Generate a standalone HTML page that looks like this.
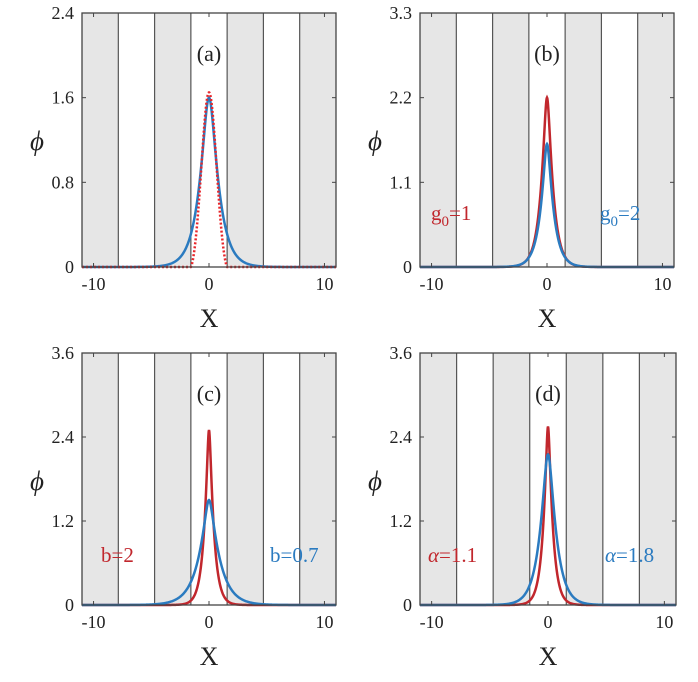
<!DOCTYPE html>
<html><head><meta charset="utf-8"><style>
body{margin:0;background:#fff;}
svg text{font-family:"Liberation Serif",serif;}
</style></head><body>
<svg id="s" width="698" height="677" xmlns="http://www.w3.org/2000/svg"></svg>
<script>
const S=document.getElementById('s');let h='';
const RED='#c1272d',BLUE='#2b7bc0';
function sech(x){return 2/(Math.exp(x)+Math.exp(-x));}
function cusp(A,w,r){r=r||0.03;return x=>A*Math.exp(-(Math.sqrt(x*x+r)-Math.sqrt(r))/w);}
function panel(L,T,R,B,ymax,ticks,lab,curves,texts){
 const sx=x=>L+(x+11)/22*(R-L), sy=y=>B-y/ymax*(B-T);
 const P=Math.PI;
 const bands=[[-11,-2.5*P],[-1.5*P,-0.5*P],[0.5*P,1.5*P],[2.5*P,11]];
 bands.forEach(b=>h+=`<rect x="${sx(b[0])}" y="${T}" width="${sx(b[1])-sx(b[0])}" height="${B-T}" fill="#e6e6e6"/>`);
 [-2.5,-1.5,-0.5,0.5,1.5,2.5].forEach(k=>h+=`<line x1="${sx(k*P)}" x2="${sx(k*P)}" y1="${T}" y2="${B}" stroke="#555" stroke-width="1.2"/>`);
 curves.forEach(c=>{let d='';for(let i=0;i<=800;i++){const x=-11+22*i/800;d+=(i?'L':'M')+sx(x).toFixed(2)+','+sy(c.f(x)).toFixed(2);}
  h+=`<path d="${d}" fill="none" stroke="${c.c}" stroke-width="${c.w||2.5}" ${c.dash?'stroke-dasharray="2,2"':''}/>`;});
 h+=`<rect x="${L}" y="${T}" width="${R-L}" height="${B-T}" fill="none" stroke="#444" stroke-width="1.3"/>`;
 ticks.forEach(t=>{h+=`<text x="${L-8}" y="${sy(t)+6}" text-anchor="end" font-size="18" fill="#222">${t}</text>`;
  h+=`<line x1="${L}" x2="${L+4}" y1="${sy(t)}" y2="${sy(t)}" stroke="#444"/><line x1="${R}" x2="${R-4}" y1="${sy(t)}" y2="${sy(t)}" stroke="#444"/>`;});
 [-10,0,10].forEach(v=>{h+=`<text x="${sx(v)}" y="${B+23}" text-anchor="middle" font-size="18" fill="#222">${v}</text>`;
  h+=`<line x1="${sx(v)}" x2="${sx(v)}" y1="${B}" y2="${B-4}" stroke="#444"/><line x1="${sx(v)}" x2="${sx(v)}" y1="${T}" y2="${T+4}" stroke="#444"/>`;});
 h+=`<text x="${sx(0)}" y="${T+48}" text-anchor="middle" font-size="22" fill="#222">${lab}</text>`;
 h+=`<text x="${sx(0)}" y="${B+60}" text-anchor="middle" font-size="26" fill="#222">X</text>`;
 h+=`<text x="${L-45}" y="${T+137}" text-anchor="middle" font-size="27" font-style="italic" fill="#222">ϕ</text>`;
 texts.forEach(t=>h+=`<text x="${t[0]}" y="${t[1]}" font-size="21" fill="${t[3]}">${t[2]}</text>`);
}
panel(82,13,336,267,2.4,[0,0.8,1.6,2.4],'(a)',[
 {c:BLUE,f:cusp(1.6,0.75,0.15)},
 {c:'#e8262a',dash:1,w:2.5,f:x=>Math.abs(x)<1.57?1.65*Math.pow(Math.cos(x),1.3)*sech(x/0.9):0}],[]);
panel(420,13,674,267,3.3,[0,1.1,2.2,3.3],'(b)',[
 {c:RED,f:cusp(2.2,0.5)},{c:BLUE,f:cusp(1.6,0.55)}],
 [[431,220,'g<tspan font-size="15" dy="6">0</tspan><tspan dy="-6">=1</tspan>',RED],[600,220,'g<tspan font-size="15" dy="6">0</tspan><tspan dy="-6">=2</tspan>',BLUE]]);
panel(82,353,336,605,3.6,[0,1.2,2.4,3.6],'(c)',[
 {c:RED,f:cusp(2.5,0.4,0.01)},{c:BLUE,f:cusp(1.5,0.9,0.05)}],
 [[101,562,'b=2',RED],[270,562,'b=0.7',BLUE]]);
panel(420,353,676,605,3.6,[0,1.2,2.4,3.6],'(d)',[
 {c:RED,f:cusp(2.55,0.4,0.01)},{c:BLUE,f:cusp(2.15,0.65,0.08)}],
 [[428,562,'<tspan font-style="italic">α</tspan>=1.1',RED],[605,562,'<tspan font-style="italic">α</tspan>=1.8',BLUE]]);
S.innerHTML=h;
</script>
</body></html>
